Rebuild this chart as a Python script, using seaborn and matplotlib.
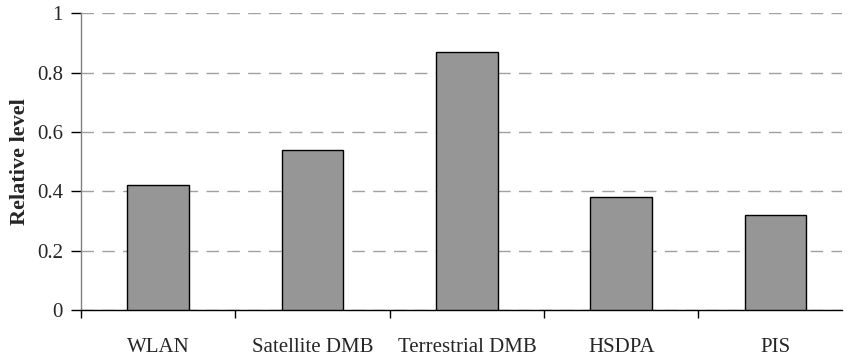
import matplotlib
matplotlib.use("Agg")
import matplotlib.pyplot as plt
import seaborn as sns
import pandas as pd
import numpy as np

categories = ["WLAN", "Satellite DMB", "Terrestrial DMB", "HSDPA", "PIS"]
values = [0.42, 0.54, 0.87, 0.38, 0.32]
yticks = [0, 0.2, 0.4, 0.6, 0.8, 1]
ytick_labels = ["0", "0.2", "0.4", "0.6", "0.8", "1"]

sns.set_style("white")
plt.rcParams["font.family"] = ["Liberation Serif", "DejaVu Serif"]

W, H = 849, 357
fig = plt.figure(figsize=(W / 100, H / 100), dpi=100)
ax = fig.add_axes([81 / W, (H - 310) / H, (842 - 81) / W, (310 - 13.3) / H])

df = pd.DataFrame({"cat": categories, "val": values})
sns.barplot(data=df, x="cat", y="val", color="#969696", saturation=1,
            width=0.4, edgecolor="black", linewidth=1.0, ax=ax, zorder=3)

ax.set_ylim(0, 1)
ax.set_xlim(-0.5, 4.43)
ax.set_yticks(yticks)
ax.set_yticklabels(ytick_labels)
ax.yaxis.grid(True, linestyle=(0, (9, 6)), color="#a0a0a0", linewidth=1.0, zorder=0)
ax.xaxis.grid(False)
ax.set_axisbelow(True)

for s in ["top", "right"]:
    ax.spines[s].set_visible(False)
ax.spines["left"].set_color("#808080")
ax.spines["left"].set_linewidth(1.0)
ax.spines["bottom"].set_color("black")
ax.spines["bottom"].set_linewidth(1.0)

ax.set_xticks(np.arange(len(categories)))
ax.set_xticklabels(categories)
ax.set_xticks(np.arange(-0.5, len(categories) - 1, 1.0), minor=True)
ax.tick_params(axis="x", which="major", length=0, pad=20, labelsize=15)
ax.tick_params(axis="x", which="minor", length=6, width=1, color="black", direction="out", bottom=True)
ax.tick_params(axis="y", which="major", length=7, width=1, color="black", direction="out", left=True, pad=6, labelsize=15)

ax.set_xlabel("")
ax.set_ylabel("Relative level", fontsize=16, fontweight="bold", labelpad=5)

fig.savefig("out.png", dpi=100)
